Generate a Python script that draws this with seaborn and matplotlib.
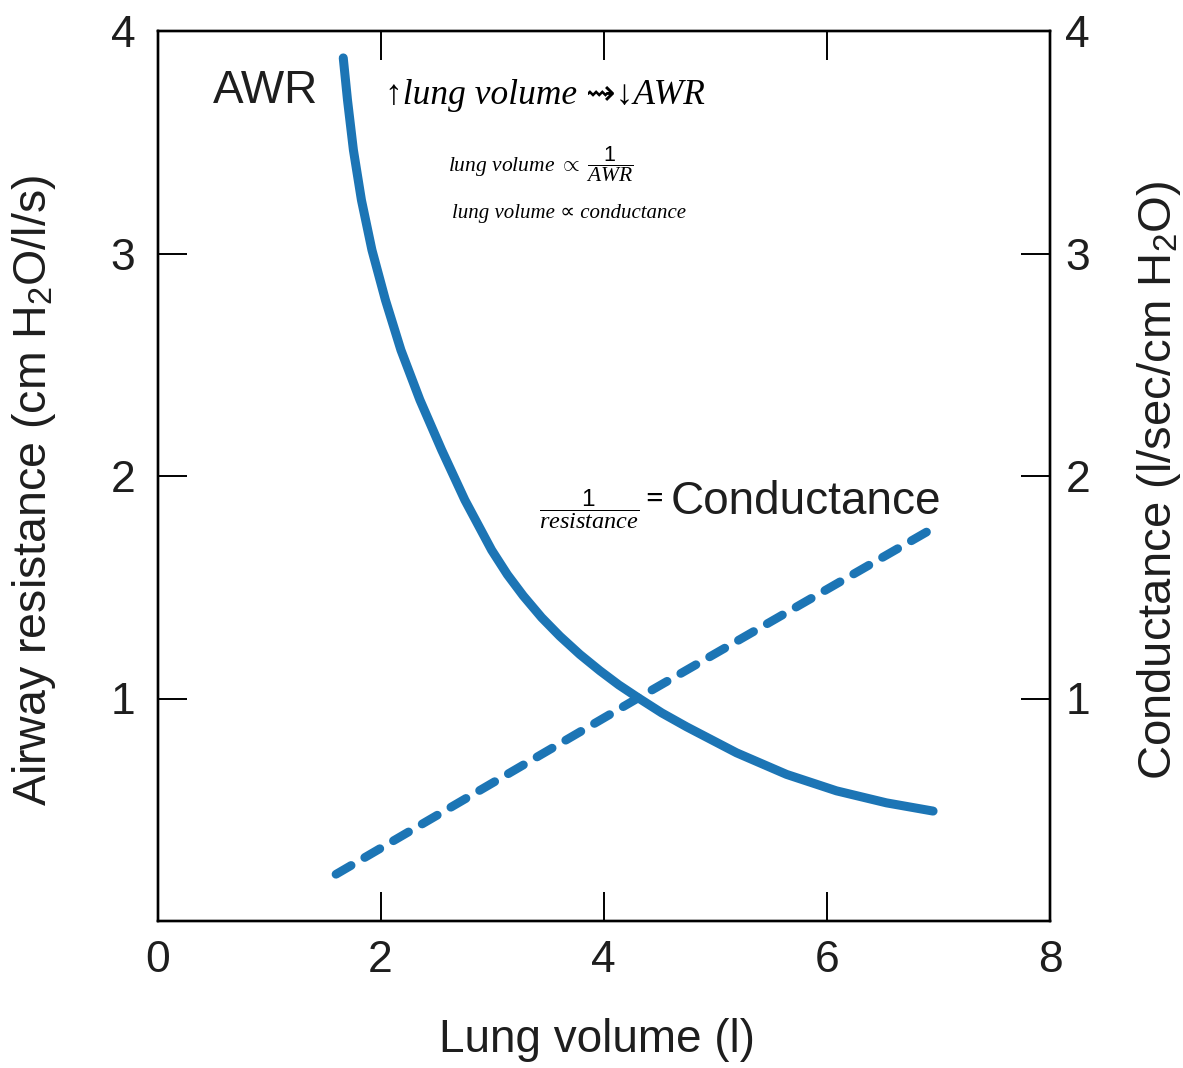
import matplotlib
matplotlib.use("Agg")
import matplotlib.pyplot as plt
import seaborn as sns

# ---- data ----
volume_awr = [1.665, 1.703, 1.756, 1.828, 1.922, 2.043, 2.182, 2.352, 2.547, 2.755,
              2.995, 3.136, 3.278, 3.443, 3.607, 3.786, 3.965, 4.135, 4.306, 4.521,
              4.742, 5.190, 5.638, 6.086, 6.534, 6.952]
awr = [3.879, 3.690, 3.465, 3.240, 3.016, 2.791, 2.566, 2.342, 2.117, 1.892,
       1.667, 1.557, 1.462, 1.364, 1.280, 1.198, 1.125, 1.061, 1.004, 0.935,
       0.873, 0.756, 0.659, 0.585, 0.531, 0.494]
volume_cond = [1.60, 4.30, 6.90]
conductance = [0.21, 1.00, 1.75]
x_ticks = [0, 2, 4, 6, 8]
y_ticks = [1, 2, 3, 4]

xlabel = "Lung volume (l)"
ylabel_left = "Airway resistance (cm H$_2$O/l/s)"
ylabel_right = "Conductance (l/sec/cm H$_2$O)"

# ---- style ----
sns.set_style("white")
plt.rcParams["font.family"] = ["Liberation Sans", "DejaVu Sans"]
plt.rcParams["mathtext.fontset"] = "custom"
plt.rcParams["mathtext.rm"] = "Liberation Sans"
plt.rcParams["mathtext.it"] = "Liberation Serif:italic"
plt.rcParams["mathtext.bf"] = "Liberation Sans:bold"

text_col = "#1e1e1e"
blue = "#1c75b5"

W, H = 1183, 1068
fig = plt.figure(figsize=(W / 100, H / 100), dpi=100)
fig.patch.set_facecolor("white")
ax = fig.add_axes([157.5 / W, 1 - 921 / H, 892.5 / W, 890 / H])
ax2 = ax.twinx()

sns.lineplot(x=volume_awr, y=awr, ax=ax, color=blue, linewidth=6.5,
             solid_capstyle="round", solid_joinstyle="round", sort=False, zorder=3)
sns.lineplot(x=volume_cond, y=conductance, ax=ax2, color=blue, linewidth=6.3,
             linestyle=(0, (2.0, 1.8)), dash_capstyle="round", sort=False, zorder=3)

for a in (ax, ax2):
    a.set_xlim(0, 8)
    a.set_ylim(0, 4)
    for s in a.spines.values():
        s.set_visible(True)
        s.set_linewidth(1.7)
        s.set_color("black")

ax.set_xticks(x_ticks)
ax.set_yticks(y_ticks)
ax2.set_yticks(y_ticks)

ax.tick_params(axis="x", direction="in", length=21, width=1.4, top=True, bottom=True,
               pad=14, labelsize=32, colors="black", labelcolor=text_col)
ax.tick_params(axis="y", direction="in", length=21, width=1.4, left=True, right=False,
               pad=16, labelsize=32, colors="black", labelcolor=text_col)
ax2.tick_params(axis="y", direction="in", length=21, width=1.4, right=True, left=False,
                pad=11, labelsize=32, colors="black", labelcolor=text_col)

ax.set_xlabel(xlabel, fontsize=33, color=text_col)
ax.xaxis.set_label_coords(0.4924, -0.109)
ax.set_ylabel(ylabel_left, fontsize=33.5, color=text_col)
ax.yaxis.set_label_coords(-0.112, 0.484)
ax2.set_ylabel(ylabel_right, fontsize=34, color=text_col)
ax2.yaxis.set_label_coords(1.095, 0.4955)

# printed labels
ax.text(0.50, 3.73, "AWR", fontsize=33, color=text_col, ha="left", va="center")
ax.text(4.60, 1.885, "Conductance", fontsize=33, color=text_col, ha="left", va="center")

# handwritten notes
hand = dict(family=["Liberation Serif", "DejaVu Sans"], style="italic", color="black",
            ha="left", va="center")
ax.text(2.04, 3.71, "↑lung volume ⇝↓AWR", fontsize=25.5, **hand)
ax.text(2.60, 3.40, r"lung volume $\propto$ $\dfrac{1}{AWR}$", fontsize=15.5, **hand)
ax.text(2.64, 3.18, "lung volume ∝ conductance", fontsize=15, **hand)
ax.text(3.42, 1.85, r"$\dfrac{1}{resistance}$", fontsize=17.5, fontweight="bold", **hand)
ax.text(4.37, 1.89, "=", fontsize=22, fontweight="bold", **hand)

fig.savefig("out.png", dpi=100, facecolor="white")
